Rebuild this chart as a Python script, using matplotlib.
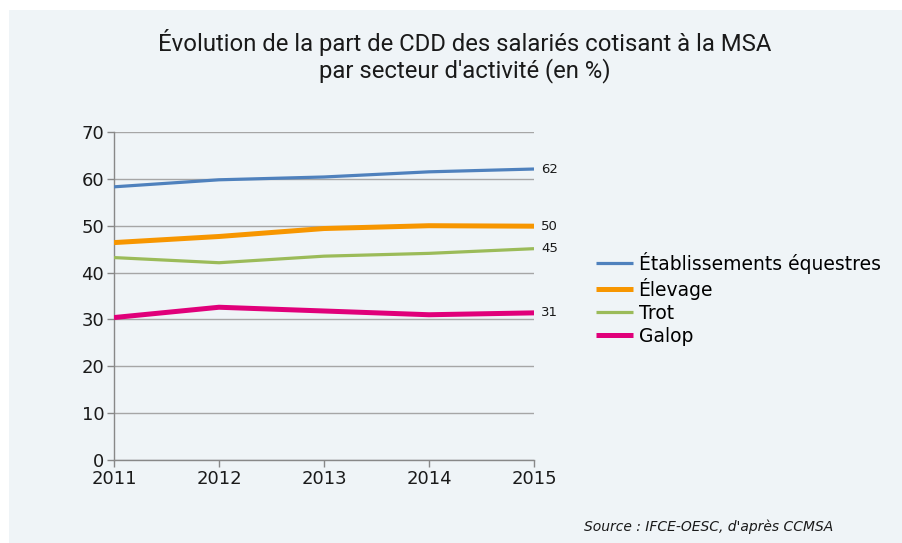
import matplotlib.pyplot as plt
from matplotlib.patches import Rectangle

years = [2011, 2012, 2013, 2014, 2015]
etablissements = [58.3, 59.8, 60.4, 61.5, 62.1]
elevage = [46.4, 47.7, 49.4, 50.0, 49.9]
trot = [43.2, 42.1, 43.5, 44.1, 45.1]
galop = [30.4, 32.6, 31.8, 31.0, 31.4]

series = [
    ("Établissements équestres", etablissements, "#4F81BD", 2.3),
    ("Élevage", elevage, "#F79600", 3.6),
    ("Trot", trot, "#9BBB59", 2.3),
    ("Galop", galop, "#E0007A", 3.6),
]

bg = "#EFF4F7"
grid_col = "#A6A6A6"

fig = plt.figure(figsize=(9.02, 5.43), dpi=100)
fig.patch.set_facecolor("white")
fig.patches.append(Rectangle((9 / 902, 0), 1, 1 - 10 / 543, transform=fig.transFigure,
                             facecolor=bg, edgecolor="none", zorder=-10))

ax = fig.add_axes([114 / 902, 1 - 460 / 543, 420 / 902, 328 / 543])
ax.patch.set_alpha(0)

lines = []
for name, vals, col, lw in series:
    ln, = ax.plot(years, vals, color=col, lw=lw, label=name, solid_capstyle="butt",
                  solid_joinstyle="round", zorder=3)
    lines.append(ln)
    ax.annotate(f"{vals[-1]:.0f}", (years[-1], vals[-1]), xytext=(5, 0),
                textcoords="offset points", va="center", ha="left",
                fontsize=9.5, color="#1a1a1a")

ax.set_xlim(2011, 2015)
ax.set_ylim(0, 70)
ax.set_yticks(range(0, 71, 10))
ax.set_xticks(years)
ax.yaxis.grid(True, color=grid_col, lw=1)
ax.set_axisbelow(True)
for s in ["top", "right"]:
    ax.spines[s].set_visible(False)
for s in ["left", "bottom"]:
    ax.spines[s].set_color("#888888")
    ax.spines[s].set_linewidth(1)
ax.tick_params(axis="both", colors="#888888", labelcolor="#1a1a1a", labelsize=13,
               length=5, width=1, pad=2)

fig.legend(handles=lines, loc="upper left", bbox_to_anchor=(588 / 902, 1 - 244 / 543),
           frameon=False, fontsize=13.5, handlelength=2.0, handletextpad=0.3,
           labelspacing=0.22, borderaxespad=0)

fig.text(465 / 902, 1 - 56 / 543,
         "Évolution de la part de CDD des salariés cotisant à la MSA\npar secteur d'activité (en %)",
         ha="center", va="center", fontsize=17.2, family=["Roboto", "DejaVu Sans"],
         linespacing=1.1, color="#1a1a1a")

fig.text(833 / 902, 1 - 527 / 543, "Source : IFCE-OESC, d'après CCMSA",
         ha="right", va="center", fontsize=10, style="italic", color="#1a1a1a")

fig.savefig("out.png", dpi=100, facecolor=fig.get_facecolor())
